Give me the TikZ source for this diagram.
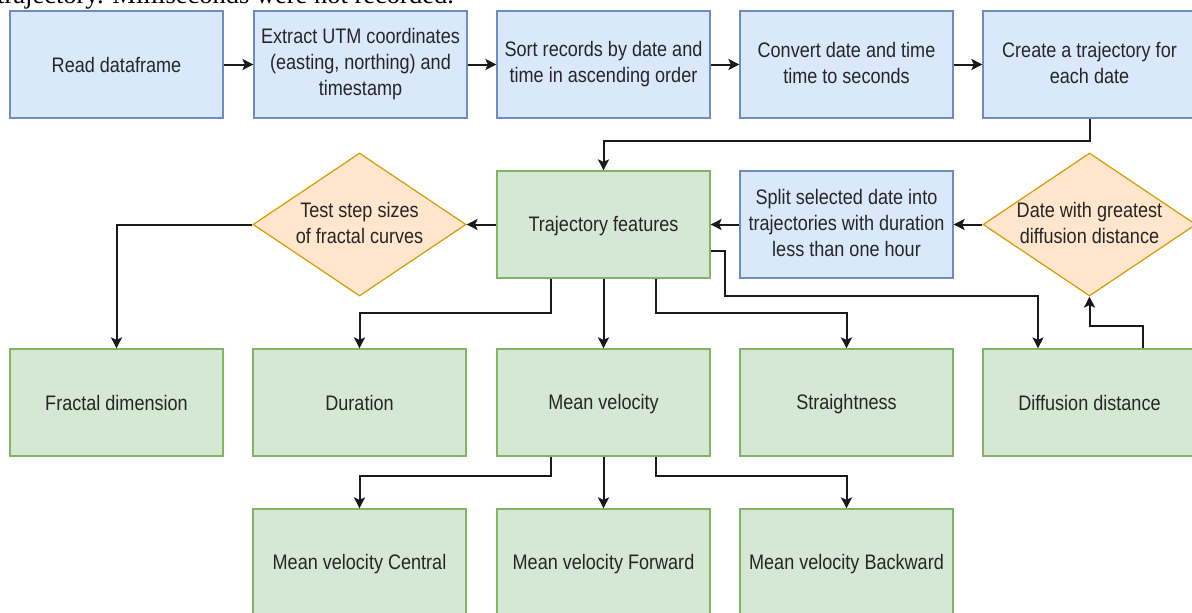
\documentclass[tikz,border=0pt]{standalone}
\usepackage{fontspec}
\setmainfont{Liberation Sans}[FakeStretch=0.86]
\newfontfamily\serifont{Liberation Serif}
\usetikzlibrary{shapes.geometric,arrows.meta}
\definecolor{bluefill}{HTML}{DAE8FC}
\definecolor{bluedraw}{HTML}{6C8EBF}
\definecolor{greenfill}{HTML}{D5E8D4}
\definecolor{greendraw}{HTML}{82B366}
\definecolor{orangefill}{HTML}{FFE6CC}
\definecolor{orangedraw}{HTML}{D79B00}
\definecolor{linecol}{HTML}{1A1A1A}
\newcommand{\linestrut}{\rule[-3.5pt]{0pt}{22.5pt}}
\begin{document}
\begin{tikzpicture}[x=1pt,y=-1pt,
  lbl/.style={font=\fontsize{21}{26}\selectfont, text=black!85, align=center,
    execute at begin node=\linestrut, execute at end node=\linestrut},
  box/.style={lbl, line width=1.2pt, minimum width=213pt, minimum height=107pt, inner sep=0pt},
  bluebox/.style={box, fill=bluefill, draw=bluedraw},
  greenbox/.style={box, fill=greenfill, draw=greendraw},
  dia/.style={diamond, line width=1.2pt, fill=orangefill, draw=orangedraw, minimum width=213pt, minimum height=143pt, inner sep=0pt},
  arr/.style={-{Stealth[length=11pt,width=11pt,inset=2.5pt]}, line width=2pt, draw=linecol}]
\useasboundingbox (0,0) rectangle (1192,613);
\clip (0,0) rectangle (1192,613);
\node[anchor=base west, inner sep=0pt, font=\serifont\fontsize{26.5}{26.5}\selectfont] (cap) at (-3,4) {trajectory. Milliseconds were not recorded.};
% top row
\node[bluebox] (rd) at (116.5,64.5) {Read dataframe};
\node[bluebox] (ex) at (360.5,64.5) {Extract UTM coordinates\\(easting, northing) and\\timestamp};
\node[bluebox] (so) at (603.5,64.5) {Sort records by date and\\time in ascending order};
\node[bluebox] (cv) at (846.5,64.5) {Convert date and time\\time to seconds};
\node[bluebox] (ct) at (1089.5,64.5) {Create a trajectory for\\each date};
% middle row
\node[greenbox] (tf) at (603.5,224.5) {Trajectory features};
\node[bluebox] (sp) at (846.5,224.5) {Split selected date into\\trajectories with duration\\less than one hour};
\node[dia] (d2) at (1089.5,224.5) {};
\node[lbl] (d2t) at (d2.center) {Date with greatest\\diffusion distance};
\node[dia] (d1) at (359.5,224.5) {};
\node[lbl] (d1t) at (d1.center) {Test step sizes\\of fractal curves};
% feature row
\node[greenbox] (fd) at (116.5,402.5) {Fractal dimension};
\node[greenbox] (du) at (359.5,402.5) {Duration};
\node[greenbox] (mv) at (603.5,402.5) {Mean velocity};
\node[greenbox] (st) at (846.5,402.5) {Straightness};
\node[greenbox] (dd) at (1089.5,402.5) {Diffusion distance};
% velocity row
\node[greenbox] (mvc) at (359.5,562.5) {Mean velocity Central};
\node[greenbox] (mvf) at (603.5,562.5) {Mean velocity Forward};
\node[greenbox] (mvb) at (846.5,562.5) {Mean velocity Backward};
% connectors
\draw[arr] (rd) -- (ex);
\draw[arr] (ex) -- (so);
\draw[arr] (so) -- (cv);
\draw[arr] (cv) -- (ct);
\draw[arr] (ct.south) -- ++(0,22) -| (tf.north);
\draw[arr] (d2.west) -- (sp.east);
\draw[arr] (sp.west) -- (tf.east);
\draw[arr] (tf.west) -- (d1.east);
\draw[arr] (d1.west) -| (fd.north);
\draw[arr] ([xshift=-52.5pt]tf.south) -- ++(0,34) -| (du.north);
\draw[arr] (tf.south) -- (mv.north);
\draw[arr] ([xshift=52.5pt]tf.south) -- ++(0,34) -| (st.north);
\draw[arr] ([yshift=-26.5pt]tf.east) -- ++(14,0) -- ++(0,45) -| ([xshift=-51.5pt]dd.north);
\draw[arr] ([xshift=53.5pt]dd.north) -- ++(0,-22) -| (d2.south);
\draw[arr] ([xshift=-52.5pt]mv.south) -- ++(0,19) -| (mvc.north);
\draw[arr] (mv.south) -- (mvf.north);
\draw[arr] ([xshift=52.5pt]mv.south) -- ++(0,19) -| (mvb.north);
\end{tikzpicture}
\end{document}
